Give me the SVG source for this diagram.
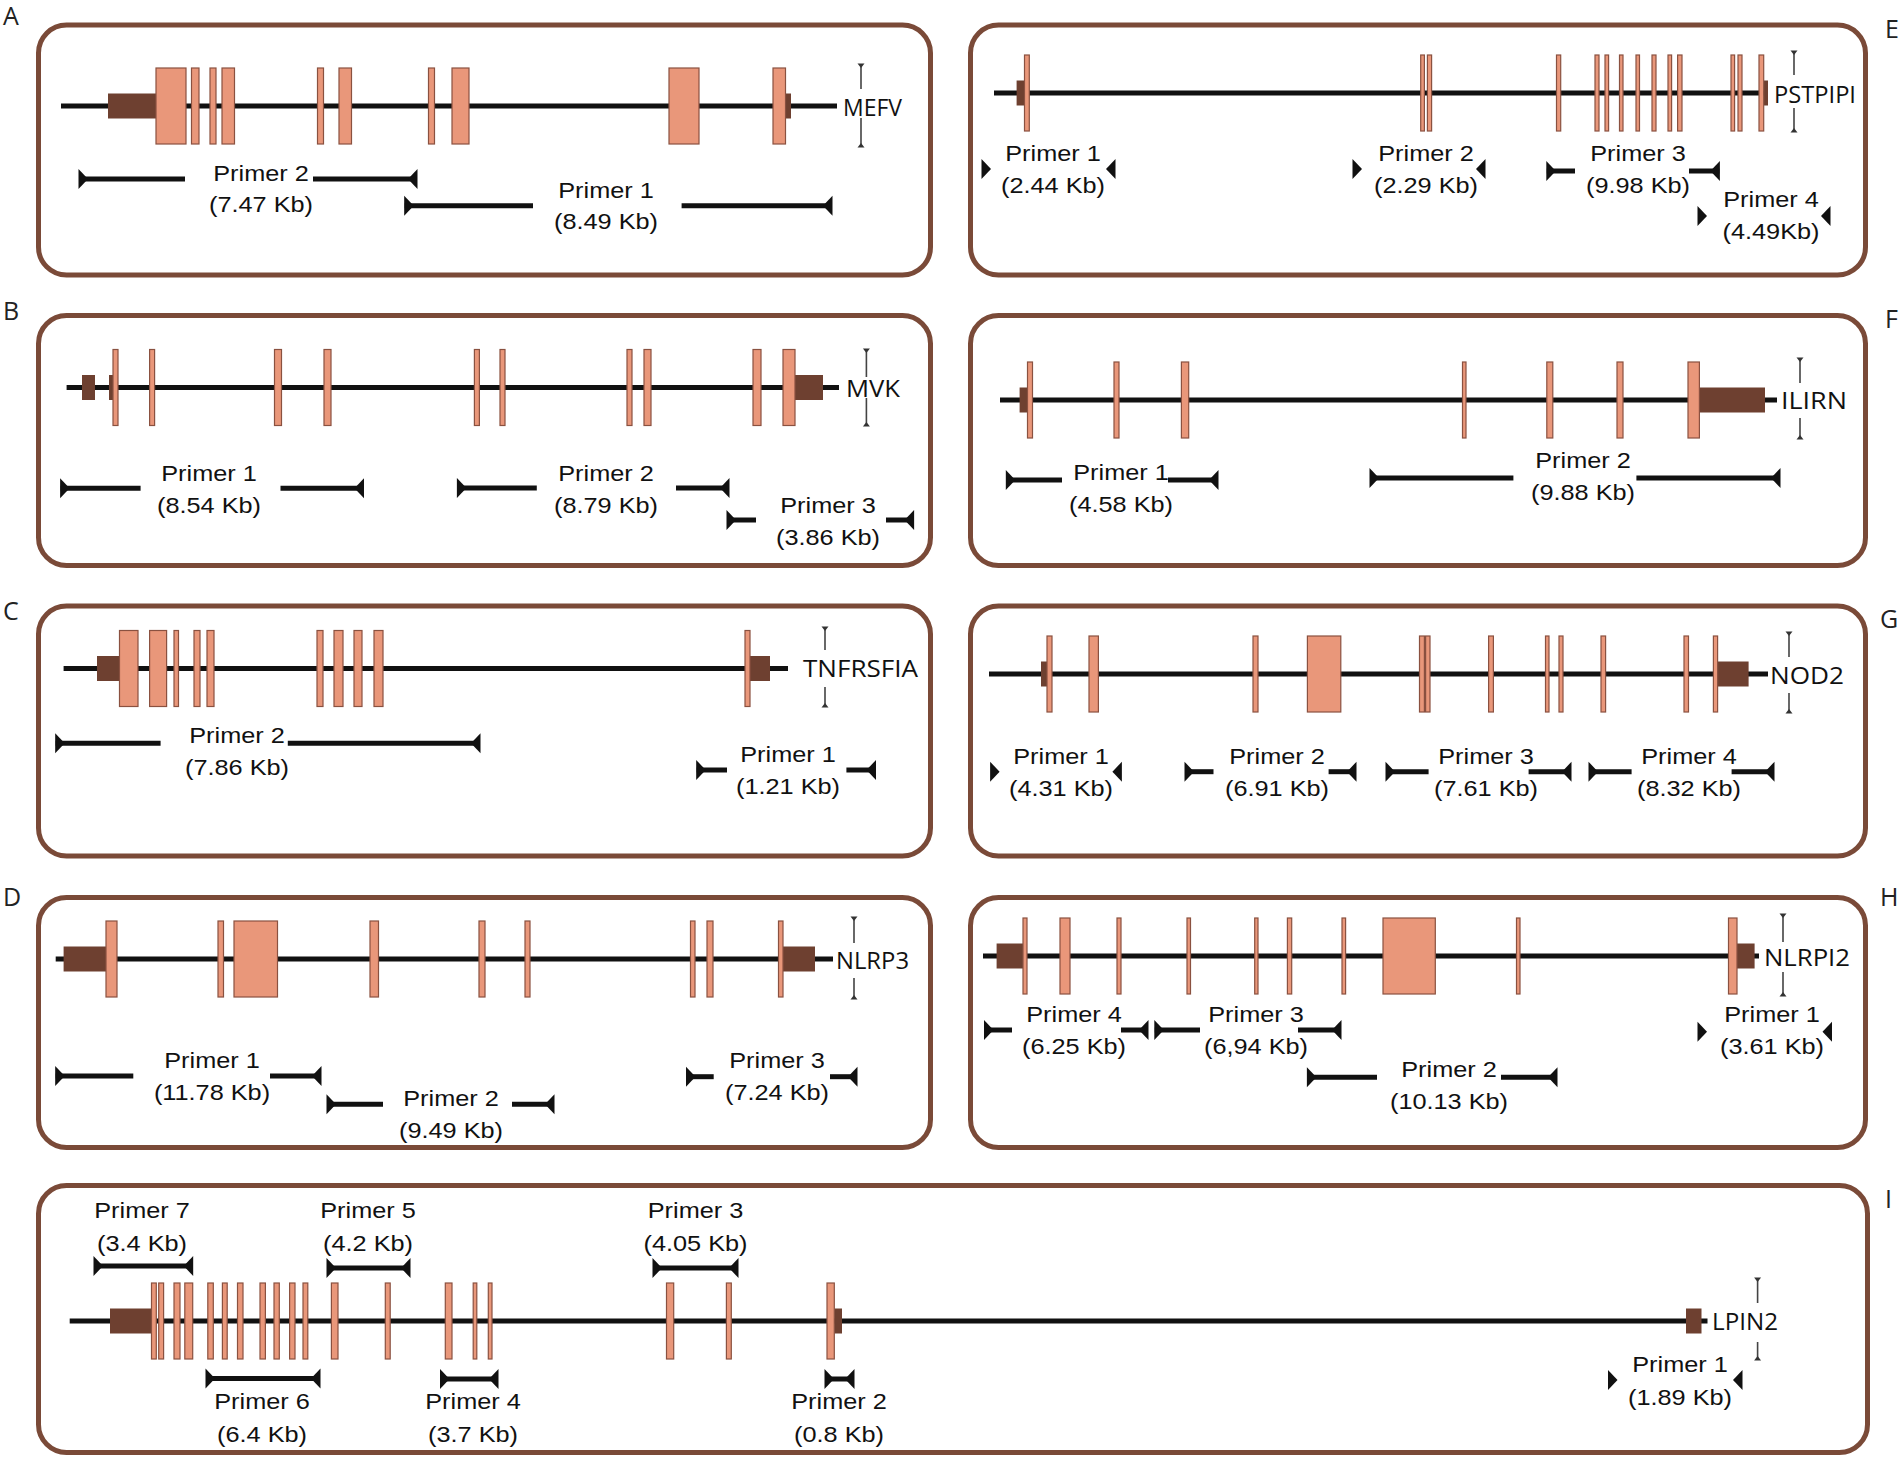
<svg xmlns="http://www.w3.org/2000/svg" width="1903" height="1457" viewBox="0 0 1903 1457">
<style>
.box{fill:#fff;stroke:#7a4a38;stroke-width:5}
.gl{stroke:#111;stroke-width:5;fill:none}
.ex{fill:#e9977a;stroke:#8a5140;stroke-width:1.2}
.utr{fill:#6e4030}
.sb{stroke:#444;stroke-width:1.6;fill:none;marker-start:url(#tk);marker-end:url(#tk)}
.pl{stroke:#111;stroke-width:5;fill:none;marker-start:url(#hd)}
.pr{stroke:#111;stroke-width:5;fill:none;marker-end:url(#hd)}
.pf{stroke:#111;stroke-width:5;fill:none;marker-start:url(#hd);marker-end:url(#hd)}
.ph{stroke:none;fill:none;marker-start:url(#hd);marker-end:url(#hd)}
.pt{font-family:'Liberation Sans',Arial,sans-serif;font-size:22px;fill:#111;text-anchor:middle}
.gn{font-family:'Open Sans',sans-serif;font-size:24px;fill:#111}
.lt{font-family:'Open Sans',sans-serif;font-size:25px;fill:#222}
</style>
<defs>
<marker id="hd" viewBox="-12 -12 14 24" refX="0" refY="0" markerWidth="14" markerHeight="24" markerUnits="userSpaceOnUse" orient="auto-start-reverse"><path d="M0.5,-10 V10 L-9,0 Z" fill="#111"/></marker>
<marker id="tk" viewBox="-6 -5 8 10" refX="0" refY="0" markerWidth="8" markerHeight="10" markerUnits="userSpaceOnUse" orient="auto-start-reverse"><path d="M0.5,-3.5 V3.5 L-4,0 Z" fill="#333"/></marker>
</defs>
<rect width="1903" height="1457" fill="#fff"/>

<g id="panel-A">
<rect class="box" x="38.5" y="25" width="892" height="250" rx="28"/>
<text class="lt" x="3" y="25">A</text>
<line class="gl" x1="61" y1="106" x2="837" y2="106"/>
<rect class="utr" x="108" y="93.5" width="48" height="25"/>
<rect class="utr" x="785.5" y="93.5" width="5.5" height="25"/>
<rect class="ex" x="156" y="68" width="30" height="76"/>
<rect class="ex" x="191.5" y="68" width="7.5" height="76"/>
<rect class="ex" x="210" y="68" width="6" height="76"/>
<rect class="ex" x="222" y="68" width="12.5" height="76"/>
<rect class="ex" x="317.5" y="68" width="6" height="76"/>
<rect class="ex" x="339" y="68" width="12.5" height="76"/>
<rect class="ex" x="428.5" y="68" width="6" height="76"/>
<rect class="ex" x="452" y="68" width="17" height="76"/>
<rect class="ex" x="669" y="68" width="30" height="76"/>
<rect class="ex" x="773" y="68" width="12.5" height="76"/>
<path class="sb" d="M861,64 V89 M861,118 V147"/>
<text class="gn" x="843" y="116" textLength="59" lengthAdjust="spacingAndGlyphs">MEFV</text>
<text class="pt" transform="translate(261,181) scale(1.15,1)"><tspan x="0">Primer 2</tspan><tspan x="0" dy="31">(7.47 Kb)</tspan></text>
<text class="pt" transform="translate(606,198) scale(1.15,1)"><tspan x="0">Primer 1</tspan><tspan x="0" dy="31">(8.49 Kb)</tspan></text>
</g>

<g id="panel-B">
<rect class="box" x="38.5" y="315.5" width="892" height="250" rx="28"/>
<text class="lt" x="3" y="320">B</text>
<line class="gl" x1="66.6" y1="387.5" x2="839" y2="387.5"/>
<rect class="utr" x="82" y="375" width="13" height="25"/>
<rect class="utr" x="109" y="375" width="6" height="25"/>
<rect class="utr" x="795" y="375" width="28" height="25"/>
<rect class="ex" x="113" y="349.5" width="5" height="76"/>
<rect class="ex" x="149.6" y="349.5" width="5" height="76"/>
<rect class="ex" x="274.5" y="349.5" width="7" height="76"/>
<rect class="ex" x="324" y="349.5" width="7" height="76"/>
<rect class="ex" x="474.4" y="349.5" width="5" height="76"/>
<rect class="ex" x="500" y="349.5" width="5" height="76"/>
<rect class="ex" x="627" y="349.5" width="5" height="76"/>
<rect class="ex" x="644" y="349.5" width="7" height="76"/>
<rect class="ex" x="753" y="349.5" width="8" height="76"/>
<rect class="ex" x="783" y="349.5" width="12" height="76"/>
<path class="sb" d="M866.4,349 V377 M866.4,398 V426"/>
<text class="gn" x="846" y="397" textLength="54" lengthAdjust="spacingAndGlyphs">MVK</text>
<text class="pt" transform="translate(209,481) scale(1.15,1)"><tspan x="0">Primer 1</tspan><tspan x="0" dy="32">(8.54 Kb)</tspan></text>
<text class="pt" transform="translate(606,481) scale(1.15,1)"><tspan x="0">Primer 2</tspan><tspan x="0" dy="32">(8.79 Kb)</tspan></text>
<text class="pt" transform="translate(828,513) scale(1.15,1)"><tspan x="0">Primer 3</tspan><tspan x="0" dy="32">(3.86 Kb)</tspan></text>
</g>

<g id="panel-C">
<rect class="box" x="38.5" y="606" width="892" height="250" rx="28"/>
<text class="lt" x="3" y="620">C</text>
<line class="gl" x1="63.6" y1="668.5" x2="788" y2="668.5"/>
<rect class="utr" x="97" y="656" width="23" height="25"/>
<rect class="utr" x="750" y="656" width="20" height="25"/>
<rect class="ex" x="119.5" y="630.5" width="18.5" height="76"/>
<rect class="ex" x="149.6" y="630.5" width="17" height="76"/>
<rect class="ex" x="174" y="630.5" width="4.5" height="76"/>
<rect class="ex" x="194" y="630.5" width="6" height="76"/>
<rect class="ex" x="207" y="630.5" width="7" height="76"/>
<rect class="ex" x="317" y="630.5" width="6" height="76"/>
<rect class="ex" x="334" y="630.5" width="9" height="76"/>
<rect class="ex" x="354" y="630.5" width="8" height="76"/>
<rect class="ex" x="374" y="630.5" width="9" height="76"/>
<rect class="ex" x="745" y="630.5" width="5" height="76"/>
<path class="sb" d="M825,627 V650 M825,687 V707"/>
<text class="gn" x="803" y="677" textLength="115" lengthAdjust="spacingAndGlyphs">TNFRSFIA</text>
<text class="pt" transform="translate(237,743) scale(1.15,1)"><tspan x="0">Primer 2</tspan><tspan x="0" dy="32">(7.86 Kb)</tspan></text>
<text class="pt" transform="translate(788,762) scale(1.15,1)"><tspan x="0">Primer 1</tspan><tspan x="0" dy="32">(1.21 Kb)</tspan></text>
</g>

<g id="panel-D">
<rect class="box" x="38.5" y="897.5" width="892" height="250" rx="28"/>
<text class="lt" x="3" y="906">D</text>
<line class="gl" x1="55.7" y1="959" x2="833" y2="959"/>
<rect class="utr" x="63.6" y="946.5" width="44" height="25"/>
<rect class="utr" x="783" y="946.5" width="32" height="25"/>
<rect class="ex" x="106" y="921" width="11" height="76"/>
<rect class="ex" x="218" y="921" width="5.5" height="76"/>
<rect class="ex" x="234" y="921" width="43.5" height="76"/>
<rect class="ex" x="370" y="921" width="8.5" height="76"/>
<rect class="ex" x="479" y="921" width="6" height="76"/>
<rect class="ex" x="525" y="921" width="5" height="76"/>
<rect class="ex" x="690.5" y="921" width="4.5" height="76"/>
<rect class="ex" x="707" y="921" width="6" height="76"/>
<rect class="ex" x="778.5" y="921" width="4.5" height="76"/>
<path class="sb" d="M854,917 V943 M854,978 V999"/>
<text class="gn" x="836" y="969" textLength="73" lengthAdjust="spacingAndGlyphs">NLRP3</text>
<text class="pt" transform="translate(212,1068) scale(1.15,1)"><tspan x="0">Primer 1</tspan><tspan x="0" dy="32">(11.78 Kb)</tspan></text>
<text class="pt" transform="translate(451,1106) scale(1.15,1)"><tspan x="0">Primer 2</tspan><tspan x="0" dy="32">(9.49 Kb)</tspan></text>
<text class="pt" transform="translate(777,1068) scale(1.15,1)"><tspan x="0">Primer 3</tspan><tspan x="0" dy="32">(7.24 Kb)</tspan></text>
</g>

<g id="panel-E">
<rect class="box" x="970.5" y="25" width="895" height="250" rx="28"/>
<text class="lt" x="1885" y="38">E</text>
<line class="gl" x1="994" y1="93" x2="1768" y2="93"/>
<rect class="utr" x="1016.6" y="80.5" width="10.5" height="25"/>
<rect class="utr" x="1763.7" y="80.5" width="4.3" height="25"/>
<rect class="ex" x="1024.5" y="55" width="4.8" height="76"/>
<rect class="ex" x="1420.7" y="55" width="3.7" height="76"/>
<rect class="ex" x="1427.4" y="55" width="4.2" height="76"/>
<rect class="ex" x="1556.5" y="55" width="4.2" height="76"/>
<rect class="ex" x="1595" y="55" width="4" height="76"/>
<rect class="ex" x="1605" y="55" width="3.6" height="76"/>
<rect class="ex" x="1619.5" y="55" width="3.5" height="76"/>
<rect class="ex" x="1636" y="55" width="3.5" height="76"/>
<rect class="ex" x="1652" y="55" width="4" height="76"/>
<rect class="ex" x="1668" y="55" width="3.6" height="76"/>
<rect class="ex" x="1677.6" y="55" width="4.4" height="76"/>
<rect class="ex" x="1731" y="55" width="3.6" height="76"/>
<rect class="ex" x="1738" y="55" width="4" height="76"/>
<rect class="ex" x="1759" y="55" width="4.7" height="76"/>
<path class="sb" d="M1794,51 V75 M1794,108 V132"/>
<text class="gn" x="1774" y="103" textLength="82" lengthAdjust="spacingAndGlyphs">PSTPIPI</text>
<text class="pt" transform="translate(1053,161) scale(1.15,1)"><tspan x="0">Primer 1</tspan><tspan x="0" dy="32">(2.44 Kb)</tspan></text>
<text class="pt" transform="translate(1426,161) scale(1.15,1)"><tspan x="0">Primer 2</tspan><tspan x="0" dy="32">(2.29 Kb)</tspan></text>
<text class="pt" transform="translate(1638,161) scale(1.15,1)"><tspan x="0">Primer 3</tspan><tspan x="0" dy="32">(9.98 Kb)</tspan></text>
<text class="pt" transform="translate(1771,207) scale(1.15,1)"><tspan x="0">Primer 4</tspan><tspan x="0" dy="32">(4.49Kb)</tspan></text>
</g>

<g id="panel-F">
<rect class="box" x="970.5" y="315.5" width="895" height="250" rx="28"/>
<text class="lt" x="1885" y="328">F</text>
<line class="gl" x1="1000" y1="400" x2="1777" y2="400"/>
<rect class="utr" x="1019.6" y="387.5" width="9" height="25"/>
<rect class="utr" x="1699.4" y="387.5" width="65.6" height="25"/>
<rect class="ex" x="1027.5" y="362" width="5" height="76"/>
<rect class="ex" x="1114" y="362" width="5" height="76"/>
<rect class="ex" x="1181.4" y="362" width="7.3" height="76"/>
<rect class="ex" x="1462.5" y="362" width="3.5" height="76"/>
<rect class="ex" x="1546.8" y="362" width="6" height="76"/>
<rect class="ex" x="1617" y="362" width="6" height="76"/>
<rect class="ex" x="1688" y="362" width="11.4" height="76"/>
<path class="sb" d="M1800,358 V383 M1800,418 V439"/>
<text class="gn" x="1781" y="409" textLength="66" lengthAdjust="spacingAndGlyphs">ILIRN</text>
<text class="pt" transform="translate(1121,480) scale(1.15,1)"><tspan x="0">Primer 1</tspan><tspan x="0" dy="32">(4.58 Kb)</tspan></text>
<text class="pt" transform="translate(1583,468) scale(1.15,1)"><tspan x="0">Primer 2</tspan><tspan x="0" dy="32">(9.88 Kb)</tspan></text>
</g>

<g id="panel-G">
<rect class="box" x="970.5" y="606" width="895" height="250" rx="28"/>
<text class="lt" x="1880" y="628">G</text>
<line class="gl" x1="989" y1="674" x2="1768" y2="674"/>
<rect class="utr" x="1041" y="661.5" width="9" height="25"/>
<rect class="utr" x="1717.6" y="661.5" width="31" height="25"/>
<rect class="ex" x="1047" y="636" width="5" height="76"/>
<rect class="ex" x="1089" y="636" width="9.4" height="76"/>
<rect class="ex" x="1253" y="636" width="5" height="76"/>
<rect class="ex" x="1307.4" y="636" width="33.4" height="76"/>
<rect class="ex" x="1419.5" y="636" width="4.9" height="76"/>
<rect class="ex" x="1425.6" y="636" width="4.4" height="76"/>
<rect class="ex" x="1488.6" y="636" width="4.8" height="76"/>
<rect class="ex" x="1545.5" y="636" width="3.5" height="76"/>
<rect class="ex" x="1559" y="636" width="4" height="76"/>
<rect class="ex" x="1601" y="636" width="4.6" height="76"/>
<rect class="ex" x="1684" y="636" width="4.5" height="76"/>
<rect class="ex" x="1713.4" y="636" width="4.2" height="76"/>
<path class="sb" d="M1789,632 V657 M1789,693 V713"/>
<text class="gn" x="1770" y="684" textLength="74" lengthAdjust="spacingAndGlyphs">NOD2</text>
<text class="pt" transform="translate(1061,764) scale(1.15,1)"><tspan x="0">Primer 1</tspan><tspan x="0" dy="32">(4.31 Kb)</tspan></text>
<text class="pt" transform="translate(1277,764) scale(1.15,1)"><tspan x="0">Primer 2</tspan><tspan x="0" dy="32">(6.91 Kb)</tspan></text>
<text class="pt" transform="translate(1486,764) scale(1.15,1)"><tspan x="0">Primer 3</tspan><tspan x="0" dy="32">(7.61 Kb)</tspan></text>
<text class="pt" transform="translate(1689,764) scale(1.15,1)"><tspan x="0">Primer 4</tspan><tspan x="0" dy="32">(8.32 Kb)</tspan></text>
</g>

<g id="panel-H">
<rect class="box" x="970.5" y="897.5" width="895" height="250" rx="28"/>
<text class="lt" x="1880" y="906">H</text>
<line class="gl" x1="983" y1="956" x2="1759" y2="956"/>
<rect class="utr" x="996.6" y="943.5" width="27.4" height="25"/>
<rect class="utr" x="1737" y="943.5" width="17.6" height="25"/>
<rect class="ex" x="1023" y="918" width="4" height="76"/>
<rect class="ex" x="1060" y="918" width="10" height="76"/>
<rect class="ex" x="1117" y="918" width="4" height="76"/>
<rect class="ex" x="1187" y="918" width="3.5" height="76"/>
<rect class="ex" x="1254.7" y="918" width="3.3" height="76"/>
<rect class="ex" x="1287.4" y="918" width="4.3" height="76"/>
<rect class="ex" x="1342" y="918" width="3.6" height="76"/>
<rect class="ex" x="1383" y="918" width="52.3" height="76"/>
<rect class="ex" x="1516.5" y="918" width="3.5" height="76"/>
<rect class="ex" x="1728.5" y="918" width="8.5" height="76"/>
<path class="sb" d="M1783,914 V942 M1783,972 V996"/>
<text class="gn" x="1764" y="966" textLength="86" lengthAdjust="spacingAndGlyphs">NLRPI2</text>
<text class="pt" transform="translate(1074,1022) scale(1.15,1)"><tspan x="0">Primer 4</tspan><tspan x="0" dy="32">(6.25 Kb)</tspan></text>
<text class="pt" transform="translate(1256,1022) scale(1.15,1)"><tspan x="0">Primer 3</tspan><tspan x="0" dy="32">(6,94 Kb)</tspan></text>
<text class="pt" transform="translate(1449,1077) scale(1.15,1)"><tspan x="0">Primer 2</tspan><tspan x="0" dy="32">(10.13 Kb)</tspan></text>
<text class="pt" transform="translate(1772,1022) scale(1.15,1)"><tspan x="0">Primer 1</tspan><tspan x="0" dy="32">(3.61 Kb)</tspan></text>
</g>

<g id="panel-I">
<rect class="box" x="38.5" y="1185.5" width="1829" height="267" rx="28"/>
<text class="lt" x="1885" y="1208">I</text>
<line class="gl" x1="69.7" y1="1321" x2="1707.5" y2="1321"/>
<rect class="utr" x="110" y="1308.5" width="41.5" height="25"/>
<rect class="utr" x="834.3" y="1308.5" width="7.7" height="25"/>
<rect class="utr" x="1686" y="1308.5" width="15.5" height="25"/>
<rect class="ex" x="151.5" y="1283" width="4.8" height="76"/>
<rect class="ex" x="158.7" y="1283" width="4.9" height="76"/>
<rect class="ex" x="174" y="1283" width="6" height="76"/>
<rect class="ex" x="184.8" y="1283" width="7.9" height="76"/>
<rect class="ex" x="207.8" y="1283" width="5.5" height="76"/>
<rect class="ex" x="222.4" y="1283" width="4.8" height="76"/>
<rect class="ex" x="237.5" y="1283" width="5.5" height="76"/>
<rect class="ex" x="260" y="1283" width="5.4" height="76"/>
<rect class="ex" x="274" y="1283" width="5.3" height="76"/>
<rect class="ex" x="289.6" y="1283" width="5.4" height="76"/>
<rect class="ex" x="303" y="1283" width="4.8" height="76"/>
<rect class="ex" x="331.4" y="1283" width="6.6" height="76"/>
<rect class="ex" x="385.3" y="1283" width="4.9" height="76"/>
<rect class="ex" x="445.3" y="1283" width="6.7" height="76"/>
<rect class="ex" x="473.2" y="1283" width="3.6" height="76"/>
<rect class="ex" x="488.3" y="1283" width="3.7" height="76"/>
<rect class="ex" x="666.5" y="1283" width="7.2" height="76"/>
<rect class="ex" x="726.4" y="1283" width="4.9" height="76"/>
<rect class="ex" x="827" y="1283" width="7.3" height="76"/>
<path class="sb" d="M1757.6,1278 V1303 M1757.6,1342 V1360"/>
<text class="gn" x="1712" y="1330" textLength="66" lengthAdjust="spacingAndGlyphs">LPIN2</text>
<text class="pt" transform="translate(142,1218) scale(1.15,1)"><tspan x="0">Primer 7</tspan><tspan x="0" dy="33">(3.4 Kb)</tspan></text>
<text class="pt" transform="translate(368,1218) scale(1.15,1)"><tspan x="0">Primer 5</tspan><tspan x="0" dy="33">(4.2 Kb)</tspan></text>
<text class="pt" transform="translate(695.5,1218) scale(1.15,1)"><tspan x="0">Primer 3</tspan><tspan x="0" dy="33">(4.05 Kb)</tspan></text>
<text class="pt" transform="translate(262,1409) scale(1.15,1)"><tspan x="0">Primer 6</tspan><tspan x="0" dy="33">(6.4 Kb)</tspan></text>
<text class="pt" transform="translate(473,1409) scale(1.15,1)"><tspan x="0">Primer 4</tspan><tspan x="0" dy="33">(3.7 Kb)</tspan></text>
<text class="pt" transform="translate(839,1409) scale(1.15,1)"><tspan x="0">Primer 2</tspan><tspan x="0" dy="33">(0.8 Kb)</tspan></text>
<text class="pt" transform="translate(1680,1372) scale(1.15,1)"><tspan x="0">Primer 1</tspan><tspan x="0" dy="33">(1.89 Kb)</tspan></text>
</g>

<g id="primers">
<path class="pl" d="M79,179 H185"/><path class="pr" d="M313,179 H417"/>
<path class="pl" d="M404.7,205.7 H533"/><path class="pr" d="M681.6,205.7 H832"/>
<path class="pl" d="M60.6,488.3 H140.6"/><path class="pr" d="M280.5,488.3 H363.5"/>
<path class="pl" d="M457.4,488 H536.8"/><path class="pr" d="M676,488 H729"/>
<path class="pl" d="M727,520 H756"/><path class="pr" d="M886,520 H913.6"/>
<path class="pl" d="M55.7,743.3 H160.6"/><path class="pr" d="M287.8,743.3 H480"/>
<path class="pl" d="M696.7,770 H727"/><path class="pr" d="M846.4,770 H875.5"/>
<path class="pl" d="M55.7,1076 H133.3"/><path class="pr" d="M270,1076 H321"/>
<path class="pl" d="M327,1104.3 H383"/><path class="pr" d="M512,1104.3 H554"/>
<path class="pl" d="M686.5,1076.7 H713.7"/><path class="pr" d="M830,1076.7 H857"/>
<path class="ph" d="M982,169 H1115"/>
<path class="ph" d="M1353,169 H1485"/>
<path class="pl" d="M1546.8,171 H1575"/><path class="pr" d="M1689,171 H1719.4"/>
<path class="ph" d="M1698,216 H1830"/>
<path class="pl" d="M1006.3,480 H1062"/><path class="pr" d="M1168,480 H1218"/>
<path class="pl" d="M1370,478 H1513.4"/><path class="pr" d="M1636.4,478 H1780"/>
<path class="ph" d="M990.6,771.7 H1121.4"/>
<path class="pl" d="M1185,771.7 H1213.5"/><path class="pr" d="M1328.6,771.7 H1356"/>
<path class="pl" d="M1386,771.7 H1428.6"/><path class="pr" d="M1528.6,771.7 H1571"/>
<path class="pl" d="M1589,771.7 H1631.6"/><path class="pr" d="M1731.6,771.7 H1774"/>
<path class="pl" d="M984.5,1030 H1012"/><path class="pr" d="M1121,1030 H1148"/>
<path class="pl" d="M1154.8,1030 H1200"/><path class="pr" d="M1298,1030 H1341"/>
<path class="pl" d="M1307.4,1077.3 H1377"/><path class="pr" d="M1501,1077.3 H1557"/>
<path class="ph" d="M1698,1031.7 H1831.5"/>
<path class="pf" d="M94,1266 H192.7"/>
<path class="pf" d="M327,1268 H410"/>
<path class="pf" d="M653,1268 H738"/>
<path class="pf" d="M206,1378.5 H320"/>
<path class="pf" d="M440.5,1379 H498"/>
<path class="pf" d="M825,1379 H854"/>
<path class="ph" d="M1608.5,1380 H1742"/>
</g>
</svg>
